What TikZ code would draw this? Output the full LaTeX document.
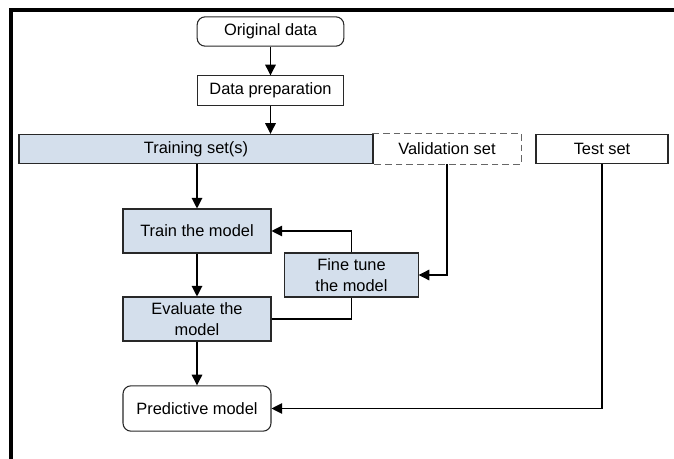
\documentclass[tikz,border=0pt]{standalone}
\usepackage{fontspec}
\setmainfont{Liberation Sans}
\usetikzlibrary{arrows.meta}

\definecolor{setblue}{RGB}{212,223,236}
\definecolor{boxline}{RGB}{40,40,40}

\tikzset{
  box/.style={draw=boxline, line width=0.8pt, minimum height=22pt, inner sep=0pt,
    align=center, font=\fontsize{12.3}{15.5}\selectfont},
  bluebox/.style={box, fill=setblue},
  roundbox/.style={box, rounded corners=6pt},
  arr/.style={-{Triangle[length=8pt,width=8pt]}, line width=0.9pt},
  feed/.style={line width=0.8pt}
}

\begin{document}
\begin{tikzpicture}[x=0.75pt,y=-0.75pt]
\useasboundingbox (0,0) rectangle (674,459);

% frame
\draw[line width=3pt] (11,459) -- (11,10.5) -- (674,10.5);

\node[roundbox, minimum width=110pt] (orig) at (270.5,31.5) {Original data};
\node[box, minimum width=110pt] (prep) at (270.5,90.5) {Data preparation};

\node[bluebox, minimum width=265.5pt] (trainset) at (196,149) {Training set(s)};
\node[box, draw=none, minimum width=111pt] (valid) at (447,149) {Validation set};
\draw[gray!80!black, line width=0.8pt, dash pattern=on 5pt off 3pt] (valid.north west) -- (valid.north east) -- (valid.south east) -- (valid.south west);
\node[box, minimum width=99pt] (test) at (602,149) {Test set};

\node[bluebox, minimum width=111pt, minimum height=33pt] (trainm) at (197,231) {Train the model};
\node[bluebox, minimum width=100pt, minimum height=33pt] (fine) at (351.5,275) {Fine tune\\the model};
\node[bluebox, minimum width=111pt, minimum height=33pt] (eval) at (197,319) {Evaluate the\\model};
\node[roundbox, minimum width=111pt, minimum height=34pt] (pred) at (197,408.5) {Predictive model};

\draw[arr] (orig) -- (prep);
\draw[arr] (prep.south) -- (prep.south |- trainset.north);
\draw[arr] (trainm.north |- trainset.south) -- (trainm);
\draw[arr] (trainm) -- (eval);
\draw[arr] (eval) -- (pred);

\draw[arr, feed] (valid.south) |- (fine.east);
\draw[arr, feed] (fine.north) |- (trainm.east);
\draw[feed] (eval.east) -| (fine.south);
\draw[arr, feed] (test.south) |- (pred.east);

\end{tikzpicture}
\end{document}
